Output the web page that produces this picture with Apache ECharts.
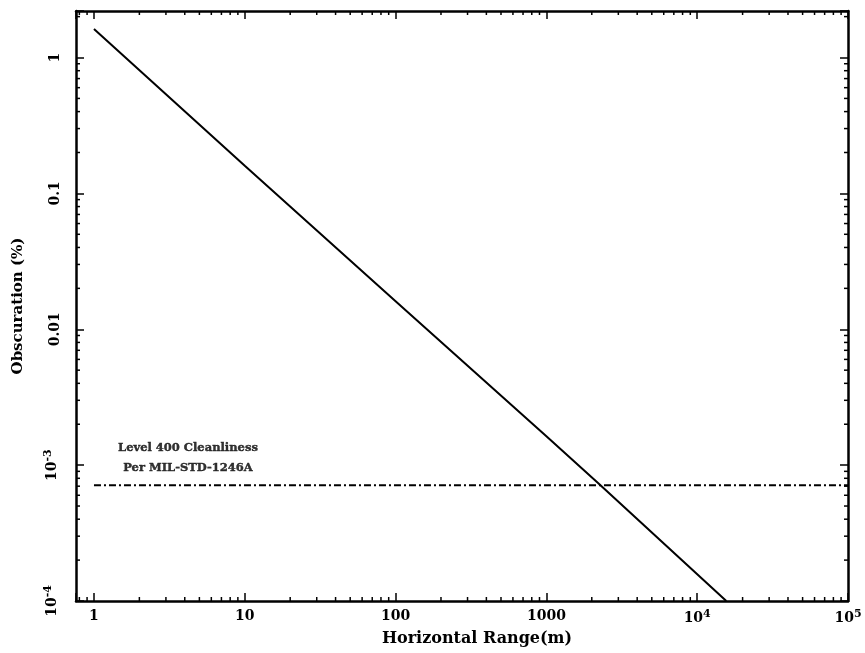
<!DOCTYPE html>
<html>
<head>
<meta charset="utf-8">
<script src="https://cdn.jsdelivr.net/npm/echarts@6/dist/echarts.min.js"></script>
<style>
html,body{margin:0;padding:0;background:#fff;}
#chart{width:865px;height:653px;}
</style>
</head>
<body>
<div id="chart"></div>
<script>
// ---- data ----
var rangeM = [1, 10, 100, 1000, 2200, 15600];
var obscurationPct = [1.62, 0.16, 0.0161, 0.00163, 0.00074, 0.0001];
var levelRange = [1, 100000];
var levelValue = 0.00071;
var levelText = ['Level 400 Cleanliness', 'Per MIL-STD-1246A'];
var levelTextAt = [4.2, 0.00071];
var xTickLabels = {1: '1', 10: '10', 100: '100', 1000: '1000', 10000: '10{sup|4}', 100000: '10{sup|5}'};
var yTickLabels = {1: '1', 0.1: '0.1', 0.01: '0.01', 0.001: '10{sup|-3}', 0.0001: '10{sup|-4}'};
var xMin = 0.76, xMax = 100000, yMin = 0.0001, yMax = 2.2;

// minor tick positions (axis decoration)
var xMinor = [], yMinor = [];
for (var k = -1; k <= 4; k++) for (var m = 2; m <= 9; m++) { var v = m * Math.pow(10, k); if (v > xMin && v < xMax) xMinor.push(v); }
for (var k2 = -4; k2 <= 0; k2++) for (var m2 = 2; m2 <= 9; m2++) { var w = m2 * Math.pow(10, k2); if (w > yMin && w < yMax) yMinor.push(+w.toPrecision(3)); }

var FONT = 'DejaVu Serif';
function lookup(map, val) {
  for (var key in map) { if (Math.abs(Math.log10(+key) - Math.log10(val)) < 1e-6) return map[key]; }
  return '';
}
var supRich = { sup: { fontFamily: FONT, fontWeight: 'bold', fontSize: 11, verticalAlign: 'top', padding: [0, 0, 8, 0], color: '#000' } };

var chart = echarts.init(document.getElementById('chart'));
var axisLineStyle = { color: '#000', width: 2.5 };
var option = {
  animation: false,
  backgroundColor: '#fff',
  grid: { left: 76, right: 17, top: 11, bottom: 52 },
  xAxis: [{
    type: 'log', logBase: 10, min: xMin, max: xMax,
    name: 'Horizontal Range(m)', nameLocation: 'middle', nameGap: 30,
    nameTextStyle: { fontFamily: FONT, fontWeight: 'bold', fontSize: 16, color: '#000', padding: [0, 0, 0, 30] },
    axisLine: { lineStyle: axisLineStyle },
    axisTick: { inside: true, length: 8, lineStyle: { color: '#000', width: 1.5 } },
    axisLabel: {
      margin: 8, color: '#000', fontFamily: FONT, fontWeight: 'bold', fontSize: 14,
      formatter: function (v) { return lookup(xTickLabels, v); }, rich: supRich
    },
    splitLine: { show: false }
  }, {
    type: 'log', logBase: 10, min: xMin, max: xMax, position: 'top',
    axisLine: { lineStyle: axisLineStyle },
    axisTick: { inside: true, length: 8, lineStyle: { color: '#000', width: 1.5 } },
    axisLabel: { show: false }, splitLine: { show: false }
  }],
  yAxis: [{
    type: 'log', logBase: 10, min: yMin, max: yMax,
    name: 'Obscuration (%)', nameLocation: 'middle', nameGap: 50, nameRotate: 90,
    nameTextStyle: { fontFamily: FONT, fontWeight: 'bold', fontSize: 15, color: '#000' },
    axisLine: { lineStyle: axisLineStyle },
    axisTick: { inside: true, length: 8, lineStyle: { color: '#000', width: 1.5 } },
    axisLabel: {
      rotate: 90, margin: 14, color: '#000', fontFamily: FONT, fontWeight: 'bold', fontSize: 14,
      formatter: function (v) { return lookup(yTickLabels, v); }, rich: supRich
    },
    splitLine: { show: false }
  }, {
    type: 'log', logBase: 10, min: yMin, max: yMax, position: 'right',
    axisLine: { lineStyle: axisLineStyle },
    axisTick: { inside: true, length: 8, lineStyle: { color: '#000', width: 1.5 } },
    axisLabel: { show: false }, splitLine: { show: false }
  }],
  series: [{
    type: 'line',
    data: rangeM.map(function (x, i) { return [x, obscurationPct[i]]; }),
    symbol: 'none',
    lineStyle: { color: '#000', width: 2 },
    clip: true
  }, {
    type: 'line',
    data: levelRange.map(function (x) { return [x, levelValue]; }),
    symbol: 'none',
    lineStyle: { color: '#000', width: 2, type: [7, 3, 2, 3] }
  }, {
    type: 'scatter',
    data: [levelTextAt],
    symbol: 'circle',
    symbolSize: 1,
    itemStyle: { color: 'rgba(0,0,0,0)' },
    silent: true,
    label: {
      show: true, position: 'top', distance: 7,
      formatter: levelText.join('\n'),
      fontFamily: FONT, fontWeight: 'bold', fontSize: 11.5, lineHeight: 20, color: '#000', align: 'center',
      textBorderColor: '#000', textBorderWidth: 0.4
    }
  }, {
    type: 'custom',
    clip: false,
    data: xMinor.map(function (v) { return [v, yMin]; }),
    renderItem: function (params, api) {
      var b = api.coord([api.value(0), yMin]);
      var t = api.coord([api.value(0), yMax]);
      return { type: 'group', children: [
        { type: 'line', shape: { x1: b[0], y1: b[1], x2: b[0], y2: b[1] - 4 }, style: { stroke: '#000', lineWidth: 1.5 } },
        { type: 'line', shape: { x1: t[0], y1: t[1], x2: t[0], y2: t[1] + 4 }, style: { stroke: '#000', lineWidth: 1.5 } }
      ] };
    }
  }, {
    type: 'custom',
    clip: false,
    data: yMinor.map(function (v) { return [xMin, v]; }),
    renderItem: function (params, api) {
      var l = api.coord([xMin, api.value(1)]);
      var r = api.coord([xMax, api.value(1)]);
      return { type: 'group', children: [
        { type: 'line', shape: { x1: l[0], y1: l[1], x2: l[0] + 4, y2: l[1] }, style: { stroke: '#000', lineWidth: 1.5 } },
        { type: 'line', shape: { x1: r[0], y1: r[1], x2: r[0] - 4, y2: r[1] }, style: { stroke: '#000', lineWidth: 1.5 } }
      ] };
    }
  }]
};
chart.setOption(option);
</script>
</body>
</html>
